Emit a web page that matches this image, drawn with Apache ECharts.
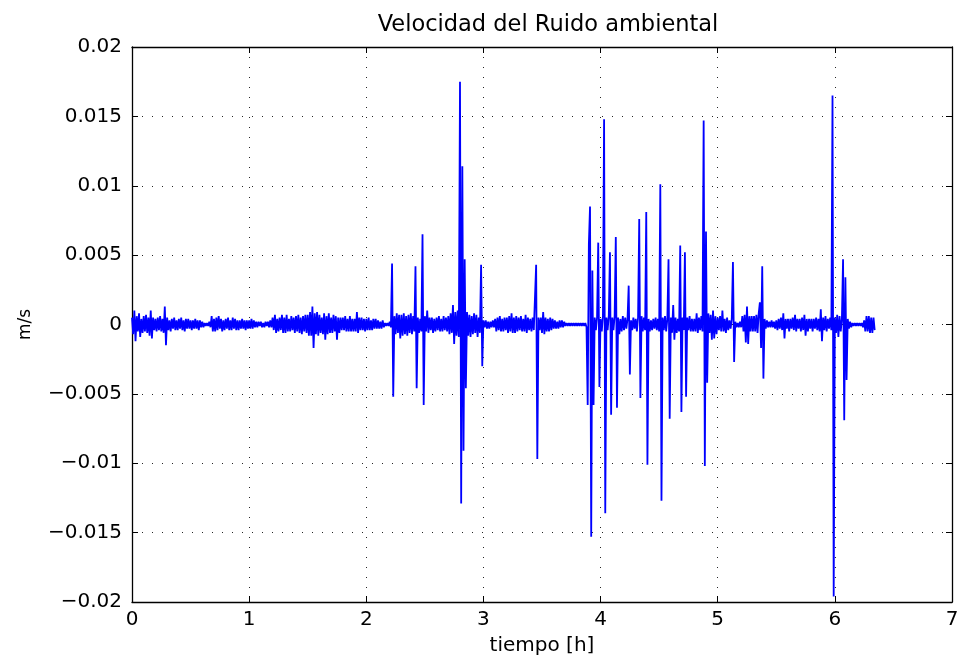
<!DOCTYPE html>
<html>
<head>
<meta charset="utf-8">
<script src="https://cdn.jsdelivr.net/npm/echarts@6/dist/echarts.min.js"></script>
<style>
html,body{margin:0;padding:0;background:#fff;}
#chart{width:963px;height:662px;}
</style>
</head>
<body>
<div id="chart"></div>
<script>
// Sampling interval of the record (hours)
const sampleInterval_h = 0.01;
// Velocity readings in units of 1e-4 m/s, one array per hour of record
const vel_h0 = [
  5,-7,10,-12,6,-5,8,-9,4,-6,
  6,-5,7,-6,5,-8,10,-10,5,-4,
  4,-5,5,-4,6,-5,4,-6,13,-15,
  5,-4,3,-5,4,-3,5,-4,3,-4,
  4,-3,5,-4,3,-5,4,-3,4,-3,
  3,-4,3,-3,4,-3,3,-4,3,-2,
  2,-2,1,-1,1,-1,2,-2,6,-5,
  4,-5,5,-4,6,-3,4,-5,3,-4,
  4,-3,5,-4,3,-4,5,-3,4,-4,
  3,-4,3,-3,4,-3,3,-4,3,-3
];
const vel_h1 = [
  3,-3,4,-3,3,-2,2,-2,2,-1,
  2,-2,1,-2,2,-1,2,-2,3,-2,
  5,-4,7,-6,4,-5,5,-4,7,-6,
  5,-6,7,-5,4,-5,6,-4,5,-6,
  6,-5,7,-6,5,-7,6,-5,7,-6,
  7,-8,9,-8,13,-17,8,-7,9,-8,
  7,-6,5,-7,8,-11,6,-7,8,-6,
  5,-6,7,-5,6,-11,5,-6,5,-4,
  5,-4,6,-5,4,-5,6,-5,4,-5,
  4,-5,9,-6,5,-4,5,-4,4,-5
];
const vel_h2 = [
  4,-4,5,-4,3,-4,4,-3,4,-3,
  3,-3,2,-3,3,-2,1,-1,1,-1,
  2,-2,44,-52,6,-7,8,-6,7,-10,
  7,-8,8,-7,6,-8,7,-6,8,-7,
  6,-5,42,-46,5,-6,4,-5,65,-58,
  6,-5,10,-6,5,-4,5,-6,4,-5,
  5,-4,6,-5,4,-5,6,-4,5,-5,
  6,-7,8,-6,14,-14,9,-8,10,-9,
  175,-129,114,-91,47,-46,9,-8,7,-9,
  6,-7,8,-6,7,-9,5,-6,43,-30
];
const vel_h3 = [
  3,-2,3,-3,2,-3,2,-2,3,-2,
  4,-5,5,-4,6,-5,4,-5,5,-4,
  5,-6,6,-5,8,-6,5,-6,6,-5,
  5,-4,6,-5,4,-5,7,-6,5,-4,
  4,-5,5,-4,-5,43,-97,5,-4,5,
  -6,9,-7,5,-5,4,-5,5,-4,4,
  -3,3,-3,2,-3,3,-2,3,-2,2,
  -1,1,-1,1,-1,1,-1,1,-1,1,
  -1,1,-1,1,-1,1,-1,1,-2,-58,
  58,85,-153,39,-58,5,-4,5,59,-45
];
const vel_h4 = [
  4,-5,6,148,-136,5,-4,6,52,-65,
  5,-4,6,63,-60,5,-7,4,-5,6,
  -4,5,-3,4,28,-36,3,-4,5,-3,
  4,-5,5,76,-53,6,-5,5,-4,81,
  -101,4,-5,3,-4,4,-3,5,-4,4,
  -5,101,-127,5,-4,6,-5,4,47,-68,
  5,-6,14,-11,5,-6,4,-5,57,-63,
  5,-4,52,-52,5,-4,6,-5,4,-5,
  4,-5,8,-6,5,-4,6,-5,147,-102,
  67,-42,8,-6,7,-11,10,-10,6,-7
];
const vel_h5 = [
  5,-4,6,-5,10,-5,4,-6,5,-4,
  3,-3,4,45,-27,2,-2,1,-2,2,
  -2,6,-5,7,-13,13,-14,6,-5,6,
  -5,6,-5,7,-6,8,16,-17,42,-39,
  4,-3,3,-2,2,-2,3,-2,2,-3,
  3,-4,4,-3,5,-4,8,-10,4,-3,
  4,-5,4,-3,5,-4,7,-5,4,-3,
  4,-5,5,-4,7,-8,4,-5,4,-3,
  4,-5,4,-3,5,-4,4,-5,11,-12,
  5,-4,6,-5,4,-3,5,-4,165,-196
];
const vel_h6 = [
  5,-6,7,-9,6,-5,4,47,-69,34,
  -40,4,-3,2,-2,1,-1,1,-1,1,
  -1,1,-1,1,-2,3,-5,6,-5,6,
  -6,5,-6,5,-4
];
const xTickLabels = ['0','1','2','3','4','5','6','7'];
const yTickLabels = ['\u22120.02','\u22120.015','\u22120.01','\u22120.005','0','0.005','0.01','0.015','0.02'];

const velocity_e4 = [].concat(vel_h0, vel_h1, vel_h2, vel_h3, vel_h4, vel_h5, vel_h6);
const seriesData = velocity_e4.map((v, i) => [Math.round(i * sampleInterval_h * 100) / 100, v * 1e-4]);

const FONT = 'DejaVu Sans';
const yMin = -0.02, yMax = 0.02, yStep = 0.005;
const yFmt = v => yTickLabels[Math.round((v - yMin) / yStep)] || '';
const xFmt = v => xTickLabels[Math.round(v)] || '';

const gridLine = { show: true, lineStyle: { color: '#000', width: 1, type: [1, 9], opacity: 0.85 } };
const chart = echarts.init(document.getElementById('chart'), null, { renderer: 'canvas' });
chart.setOption({
  animation: false,
  backgroundColor: '#fff',
  title: {
    text: 'Velocidad del Ruido ambiental',
    left: 543, top: 9, textAlign: 'center',
    textStyle: { fontFamily: FONT, fontSize: 22.5, fontWeight: 'normal', color: '#000' }
  },
  grid: { left: 132, right: 11, top: 47, bottom: 60, containLabel: false },
  xAxis: [{
    type: 'value', min: 0, max: 7, interval: 1, position: 'bottom',
    name: 'tiempo [h]', nameLocation: 'middle', nameGap: 34,
    nameTextStyle: { fontFamily: FONT, fontSize: 20, color: '#000' },
    axisLine: { show: true, onZero: false, lineStyle: { color: '#000', width: 1.3 } },
    axisTick: { show: true, inside: true, length: 6, lineStyle: { color: '#000' } },
    axisLabel: { fontFamily: FONT, fontSize: 20, color: '#000', margin: 8, formatter: xFmt },
    splitLine: gridLine
  }, {
    type: 'value', min: 0, max: 7, interval: 1, position: 'top',
    axisLine: { show: true, onZero: false, lineStyle: { color: '#000', width: 1.3 } },
    axisTick: { show: true, inside: true, length: 6, lineStyle: { color: '#000' } },
    axisLabel: { show: false }, splitLine: { show: false }
  }],
  yAxis: [{
    type: 'value', min: yMin, max: yMax, interval: yStep, position: 'left',
    name: 'm/s', nameLocation: 'middle', nameGap: 98, nameRotate: 90,
    nameTextStyle: { fontFamily: FONT, fontSize: 17, color: '#000' },
    axisLine: { show: true, onZero: false, lineStyle: { color: '#000', width: 1.3 } },
    axisTick: { show: true, inside: true, length: 6, lineStyle: { color: '#000' } },
    axisLabel: { fontFamily: FONT, fontSize: 20, color: '#000', margin: 10, formatter: yFmt },
    splitLine: gridLine
  }, {
    type: 'value', min: yMin, max: yMax, interval: yStep, position: 'right',
    axisLine: { show: true, onZero: false, lineStyle: { color: '#000', width: 1.3 } },
    axisTick: { show: true, inside: true, length: 6, lineStyle: { color: '#000' } },
    axisLabel: { show: false }, splitLine: { show: false }
  }],
  series: [{
    type: 'line',
    xAxisIndex: 0, yAxisIndex: 0,
    data: seriesData,
    showSymbol: false,
    symbol: 'none',
    sampling: null,
    lineStyle: { color: '#0000ff', width: 1.8 },
    z: 3
  }]
});
</script>
</body>
</html>
